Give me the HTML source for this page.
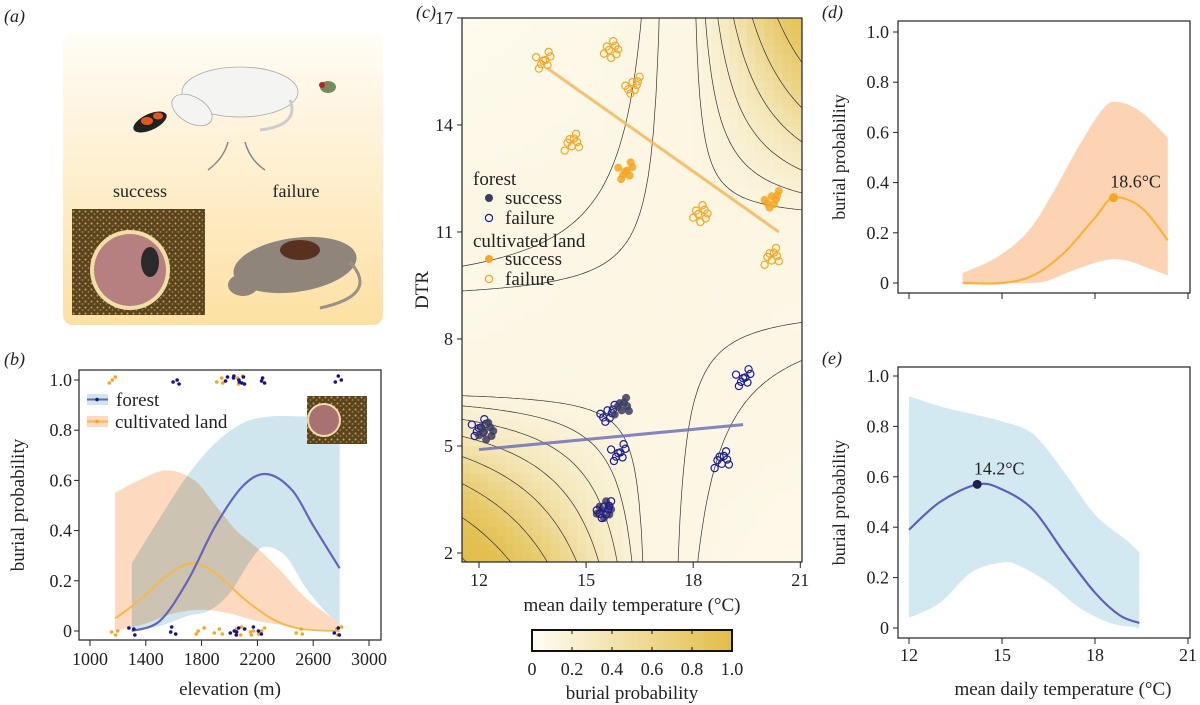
<!DOCTYPE html>
<html><head><meta charset="utf-8">
<style>
html,body{margin:0;padding:0;background:#fff;}
svg{display:block;font-family:"Liberation Serif",serif;}
text{fill:#222;}
</style></head>
<body>
<svg id="fig" width="1200" height="705" viewBox="0 0 1200 705" xmlns="http://www.w3.org/2000/svg">
<defs>
<linearGradient id="bgA" x1="0" y1="0" x2="0" y2="1"><stop offset="0" stop-color="#fffdf7"/><stop offset="1" stop-color="#fde0a3"/></linearGradient>
<linearGradient id="cbar" x1="0" y1="0" x2="1" y2="0"><stop offset="0" stop-color="#fffdf6"/><stop offset="1" stop-color="#e2bd48"/></linearGradient>
<pattern id="soil" width="6" height="6" patternUnits="userSpaceOnUse"><rect width="6" height="6" fill="#5a4420"/><circle cx="1.5" cy="1.5" r="1" fill="#c9a35a"/><circle cx="4.5" cy="4" r="0.9" fill="#a8843f"/></pattern>
<clipPath id="clipC"><rect x="462" y="18" width="340" height="544"/></clipPath>
</defs>

<!-- Panel a -->
<g>
<text x="4" y="22" font-size="18" font-style="italic">(a)</text>
<rect x="63" y="32" width="320" height="293" rx="10" fill="url(#bgA)"/>
<g>
<ellipse cx="240" cy="92" rx="58" ry="25" fill="#f4f4f2" stroke="#aaa" stroke-width="0.8"/>
<ellipse cx="192" cy="110" rx="22" ry="13" fill="#f4f4f2" stroke="#aaa" stroke-width="0.8" transform="rotate(30 192 110)"/>
<path d="M290 100 Q300 125 260 130" fill="none" stroke="#ccc" stroke-width="3"/>
</g>
<g><ellipse cx="150" cy="122" rx="18" ry="8" fill="#222" transform="rotate(-25 150 122)"/><ellipse cx="147" cy="121" rx="6" ry="4" fill="#e05a20"/><ellipse cx="158" cy="116" rx="5" ry="3.5" fill="#e05a20"/></g>
<g><ellipse cx="328" cy="87" rx="8" ry="6" fill="#7a8a5a"/><circle cx="322" cy="85" r="3" fill="#b22"/></g>
<path d="M228 142 Q224 158 208 170" fill="none" stroke="#888" stroke-width="1.5"/>
<path d="M245 142 Q250 160 265 170" fill="none" stroke="#888" stroke-width="1.5"/>
<text x="140" y="197" font-size="18" text-anchor="middle">success</text>
<text x="296" y="197" font-size="18" text-anchor="middle">failure</text>
<g>
<rect x="72" y="209" width="133" height="106" fill="url(#soil)"/>
<circle cx="130" cy="270" r="40" fill="#f2dfa8"/>
<circle cx="130" cy="270" r="36" fill="#b68080"/>
<ellipse cx="150" cy="262" rx="9" ry="15" fill="#2a2a2a"/>
</g>
<g>
<ellipse cx="295" cy="265" rx="62" ry="27" fill="#8f857b" transform="rotate(-8 295 265)"/>
<ellipse cx="243" cy="285" rx="15" ry="11" fill="#8f857b"/>
<ellipse cx="300" cy="250" rx="20" ry="10" fill="#5a3020"/>
<path d="M350 262 Q380 295 320 308" fill="none" stroke="#9a9088" stroke-width="3"/>
</g>
</g>

<g id="gB"></g>
<g id="gC"></g>
<g id="gD"></g>
<g id="gE"></g>
</svg>

<script>
// ---------- Panel b data ----------
const bForestX = [1300,1500,1700,1900,2100,2270,2450,2600,2790];
const bForestMean = [0.0,0.04,0.2,0.42,0.58,0.625,0.56,0.42,0.25];
const bForestUpX = [1300,1500,1700,1900,2100,2300,2500,2790];
const bForestUp = [0.27,0.45,0.62,0.75,0.83,0.855,0.855,0.85];
const bForestLoX = [1300,1500,1700,1850,2000,2150,2250,2400,2550,2700,2790];
const bForestLo = [0.0,0.02,0.06,0.08,0.15,0.28,0.335,0.3,0.17,0.07,0.03];
const bCultX = [1180,1350,1550,1730,1900,2100,2300,2500,2790];
const bCultMean = [0.05,0.12,0.22,0.27,0.23,0.13,0.05,0.01,0.0];
const bCultUpX = [1180,1350,1550,1750,1900,2050,2200,2350,2550,2790];
const bCultUp = [0.55,0.6,0.64,0.6,0.5,0.4,0.33,0.25,0.13,0.03];
const bCultLoX = [1180,1400,1600,1800,2000,2200,2500,2790];
const bCultLo = [0.0,0.03,0.07,0.085,0.07,0.04,0.015,0.005];
const bForestPtsX = [1610,2000,2060,2100,2230,2780,1300,1600,2020,2080,2200,2780];
const bForestPtsY = [1,1,1,1,1,1,0,0,0,0,0,0];
const bCultPtsX = [1160,1930,2080,1170,1790,1920,2080,2150,2230,2500,2790];
const bCultPtsY = [1,1,1,0,0,0,0,0,0,0,0];
const bXTicks = [1000,1400,1800,2200,2600,3000];
const bYTicks = [0,0.2,0.4,0.6,0.8,1.0];
const bYTickLabels = ["0","0.2","0.4","0.6","0.8","1.0"];

// ---------- Panel c data ----------
const cClusterT = [13.8,15.7,16.3,14.6,16.1,18.2,20.2,20.2, 12.0,12.2,15.6,16.0,15.9,15.5,15.5,18.8,19.4];
const cClusterD = [15.8,16.1,15.1,13.5,12.7,11.5,11.9,10.3, 5.5,5.4,5.9,6.1,4.8,3.2,3.2,4.6,6.9];
const cClusterGroup = ["cult","cult","cult","cult","cult","cult","cult","cult","forest","forest","forest","forest","forest","forest","forest","forest","forest"];
const cClusterFilled = [0,0,0,0,1,0,1,0, 0,1,0,1,0,1,0,0,0];
const cJitterT = [0,0.12,-0.12,0.2,-0.2,0.06,-0.06,0.15];
const cJitterD = [0,0.12,-0.1,-0.12,0.1,0.25,-0.22,0.02];
const cTrendCultT = [13.9,20.4]; const cTrendCultD = [15.6,11.0];
const cTrendForT = [12.0,19.4]; const cTrendForD = [4.9,5.6];
const cXTicks = [12,15,18,21];
const cYTicks = [2,5,8,11,14,17];
// saddle model coefficients (two hyperbolic lobes)
const cLobeT = [16.8,17.9]; const cLobeD = [6.6,11.3]; const cLobeB = [0.22,0.24]; const cIntercept = -2.2;
const cContourLevels = [1,2.5,4.5,7,10,14,19,25];
const cNegLevels = [-2,-6];
const cbTicks = [0,0.2,0.4,0.6,0.8,1.0];
const cbLabels = ["0","0.2","0.4","0.6","0.8","1.0"];

// ---------- Panel d / e data ----------
const dX = [13.73,14.8,15.8,16.6,17.5,18.3,18.8,19.5,20.35];
const dUp = [0.04,0.1,0.2,0.35,0.55,0.70,0.72,0.68,0.58];
const dLoX = [13.73,15.0,16.0,16.5,17.3,18.3,19.0,19.7,20.35];
const dLo = [0.0,0.0,0.0,0.01,0.05,0.09,0.09,0.06,0.03];
const dMeanX = [13.73,15.0,16.0,17.0,18.0,18.6,19.5,20.35];
const dMean = [0.0,0.0,0.03,0.12,0.26,0.34,0.30,0.17];
const dPeak = [18.6,0.34];
const eX = [12,13,14,15,16,17,18,19,19.43];
const eUp = [0.92,0.88,0.85,0.82,0.77,0.62,0.45,0.35,0.30];
const eLoX = [12,13,14,15,15.5,16.5,17.5,18.5,19.43];
const eLo = [0.04,0.10,0.22,0.26,0.25,0.18,0.08,0.02,0.0];
const eMeanX = [12,13,14.2,15,16,17,18,18.8,19.43];
const eMean = [0.39,0.50,0.57,0.55,0.47,0.30,0.14,0.05,0.02];
const ePeak = [14.2,0.57];
const deXTicks = [12,15,18,21];
const deYTicks = [0,0.2,0.4,0.6,0.8,1.0];

const NS = "http://www.w3.org/2000/svg";
function mk(parent, tag, attrs, txt){
  const e = document.createElementNS(NS, tag);
  for (const k in attrs) e.setAttribute(k, attrs[k]);
  if (txt !== undefined) e.textContent = txt;
  parent.appendChild(e);
  return e;
}
function smooth(pts){
  if (pts.length < 2) return "";
  let d = "M" + pts[0][0].toFixed(1) + " " + pts[0][1].toFixed(1);
  for (let i = 0; i < pts.length - 1; i++){
    const p0 = pts[i-1] || pts[i], p1 = pts[i], p2 = pts[i+1], p3 = pts[i+2] || p2;
    const c1 = [p1[0] + (p2[0]-p0[0])/6, p1[1] + (p2[1]-p0[1])/6];
    const c2 = [p2[0] - (p3[0]-p1[0])/6, p2[1] - (p3[1]-p1[1])/6];
    d += " C" + c1[0].toFixed(1)+" "+c1[1].toFixed(1)+" "+c2[0].toFixed(1)+" "+c2[1].toFixed(1)+" "+p2[0].toFixed(1)+" "+p2[1].toFixed(1);
  }
  return d;
}
function band(xu, yu, xl, yl, sx, sy){
  const up = xu.map((x,i)=>[sx(x), sy(yu[i])]);
  const lo = xl.map((x,i)=>[sx(x), sy(yl[i])]).reverse();
  return smooth(up) + " L" + smooth(lo).slice(1) + " Z";
}

// ================= Panel b =================
(function(){
  const g = document.getElementById("gB");
  const xb = v => 90 + (v - 1000) * 0.1395;
  const yb = p => 631 - p * 251;
  mk(g, "text", {x:4, y:365, "font-size":18, "font-style":"italic",  }, "(b)");
  const fb = mk(g, "path", {d: band(bForestUpX,bForestUp,bForestLoX,bForestLo,xb,yb), fill:"#cfe6ef"});
  
  
  const cb = mk(g, "path", {d: band(bCultUpX,bCultUp,bCultLoX,bCultLo,xb,yb), fill:"#fdd9bf", style:"mix-blend-mode:multiply"});
  
  
  const cl = mk(g, "path", {d: smooth(bCultX.map((x,i)=>[xb(x), yb(bCultMean[i])])), fill:"none", stroke:"#f5b94a", "stroke-width":2});
  
  
  const fl = mk(g, "path", {d: smooth(bForestX.map((x,i)=>[xb(x), yb(bForestMean[i])])), fill:"none", stroke:"#6465b8", "stroke-width":2.2});
  
  
  const jx = [0,3,-3,2,-2,4,-4,1];
  const jy = [0,-3,3,2,-2,-4,4,1];
  bCultPtsX.forEach((x,i)=>{
    for (let k=0;k<3;k++){
      const c = mk(g,"circle",{cx:xb(x)+jx[(i+k)%8], cy:yb(bCultPtsY[i])+jy[(i*2+k)%8], r:1.8, fill:"#f5a623"});
      
      
    }
  });
  bForestPtsX.forEach((x,i)=>{
    for (let k=0;k<3;k++){
      const c = mk(g,"circle",{cx:xb(x)+jx[(i+k+3)%8], cy:yb(bForestPtsY[i])+jy[(i+k*3)%8], r:1.8, fill:"#14148a"});
      
      
    }
  });
  mk(g,"rect",{x:79,y:370,width:302,height:270,fill:"none",stroke:"#222","stroke-width":1.2,});
  bYTicks.forEach((v,i)=>{
    mk(g,"line",{x1:74,x2:79,y1:yb(v),y2:yb(v),stroke:"#222"});
    const t = mk(g,"text",{x:72,y:yb(v)+6,"font-size":18,"text-anchor":"end"}, bYTickLabels[i]);
    
    
  });
  bXTicks.forEach(v=>{
    mk(g,"line",{x1:xb(v),x2:xb(v),y1:640,y2:646,stroke:"#222"});
    const t = mk(g,"text",{x:xb(v),y:665,"font-size":18,"text-anchor":"middle"}, String(v));
    
    
  });
  mk(g,"text",{x:230,y:695,"font-size":19,"text-anchor":"middle",},"elevation (m)");
  mk(g,"text",{x:0,y:0,"font-size":19,"text-anchor":"middle",transform:"translate(24 505) rotate(-90)",},"burial probability");
  const lg = mk(g,"g",{});
  mk(lg,"rect",{x:87,y:394,width:21,height:11,fill:"#cfe6ef"});
  mk(lg,"line",{x1:87,x2:108,y1:399.5,y2:399.5,stroke:"#6465b8","stroke-width":2});
  mk(lg,"circle",{cx:97,cy:399.5,r:1.8,fill:"#14148a"});
  mk(lg,"text",{x:116,y:406,"font-size":19,},"forest");
  mk(lg,"rect",{x:87,y:416,width:21,height:11,fill:"#fdd9bf"});
  mk(lg,"line",{x1:87,x2:108,y1:421.5,y2:421.5,stroke:"#f5b94a","stroke-width":2});
  mk(lg,"circle",{cx:97,cy:421.5,r:1.8,fill:"#f5a623"});
  mk(lg,"text",{x:115,y:428,"font-size":19,},"cultivated land");
  const ins = mk(g,"g",{});
  mk(ins,"rect",{x:307,y:396,width:60,height:48,fill:"url(#soil)"});
  mk(ins,"circle",{cx:324,cy:420,r:17,fill:"#f2dfa8"});
  mk(ins,"circle",{cx:324,cy:420,r:15,fill:"#a87272"});
})();

// ================= Panel c =================
(function(){
  const g = document.getElementById("gC");
  const xc = t => 479 + (t - 12) * 35.7;
  const yc = d => 553 - (d - 2) * 35.67;
  const sig = z => 1/(1+Math.exp(-z));
  function prob(t,d){
    let best = 0;
    for (let k=0;k<2;k++){
      const u = (t - cLobeT[k])*(d - cLobeD[k]);
      const side = k===0 ? (t<cLobeT[k] && d<cLobeD[k]) : (t>cLobeT[k] && d>cLobeD[k]);
      const uu = side ? u : -Math.abs(u)*0.1;
      best = Math.max(best, sig(cIntercept + cLobeB[k]*uu));
    }
    return best;
  }
  mk(g, "text", {x:416, y:18, "font-size":18, "font-style":"italic",  }, "(c)");
  const hm = mk(g,"g",{"clip-path":"url(#clipC)","shape-rendering":"crispEdges",});
  const step = 0.25;
  for (let t=11.5; t<21.01; t+=step){
    for (let d=1.75; d<17.01; d+=step){
      const p = prob(t+step/2, d+step/2);
      const r = Math.round(255 + (224-255)*p), gg = Math.round(253 + (187-253)*p), b = Math.round(245 + (66-245)*p);
      const c = mk(hm,"rect",{x:xc(t).toFixed(1), y:yc(d+step).toFixed(1), width:(step*35.7+0.6).toFixed(1), height:(step*35.67+0.6).toFixed(1), fill:`rgb(${r},${gg},${b})`});
      
      
    }
  }
  const cg = mk(g,"g",{"clip-path":"url(#clipC)",fill:"none",stroke:"#333","stroke-width":0.7,});
  function hyper(tc, dc, c, tFrom, tTo){
    const pts = [];
    const n = 80;
    for (let i=0;i<=n;i++){
      const t = tFrom + (tTo - tFrom)*i/n;
      const d = dc + c/(t - tc);
      if (d < 0 || d > 20) continue;
      pts.push(xc(t).toFixed(1)+" "+yc(d).toFixed(1));
    }
    return pts.length ? "M" + pts.join(" L") : "";
  }
  cContourLevels.forEach(c=>{
    const p1 = mk(cg,"path",{d: hyper(cLobeT[0], cLobeD[0], c, 11.4, cLobeT[0]-0.05)});
    
    
    const p2 = mk(cg,"path",{d: hyper(cLobeT[1], cLobeD[1], c, cLobeT[1]+0.05, 21.1)});
    
    
  });
  cNegLevels.forEach(c=>{
    const p1 = mk(cg,"path",{d: hyper(17.3, 9.0, c, 11.4, 17.25)});
    
    
    const p2 = mk(cg,"path",{d: hyper(17.3, 9.0, c, 17.35, 21.1)});
    
    
  });
  const tc1 = mk(g,"line",{x1:xc(cTrendCultT[0]),y1:yc(cTrendCultD[0]),x2:xc(cTrendCultT[1]),y2:yc(cTrendCultD[1]),stroke:"#f5b75a","stroke-width":3,"stroke-opacity":0.85});
  
  
  const tc2 = mk(g,"line",{x1:xc(cTrendForT[0]),y1:yc(cTrendForD[0]),x2:xc(cTrendForT[1]),y2:yc(cTrendForD[1]),stroke:"#7070b8","stroke-width":3,"stroke-opacity":0.85});
  
  
  cClusterT.forEach((t,i)=>{
    const col = cClusterGroup[i]==="cult" ? "#f5a623" : "#1c1c92";
    const fillCol = cClusterGroup[i]==="cult" ? "#f5a623" : "#3c3c60";
    for (let k=0;k<cJitterT.length;k++){
      const x = xc(t + cJitterT[(k+i)%8]);
      const y = yc(cClusterD[i] + cJitterD[(k*3+i)%8]);
      const c = cClusterFilled[i] ? mk(g,"circle",{cx:x,cy:y,r:4,fill:fillCol,"fill-opacity":0.85})
                                  : mk(g,"circle",{cx:x,cy:y,r:3.6,fill:"none",stroke:col,"stroke-width":1.2});
      
      
    }
  });
  mk(g,"rect",{x:462,y:18,width:340,height:544,fill:"none",stroke:"#222","stroke-width":1.2,});
  cYTicks.forEach(v=>{
    mk(g,"line",{x1:457,x2:462,y1:yc(v),y2:yc(v),stroke:"#222"});
    const t = mk(g,"text",{x:453,y:yc(v)+6,"font-size":18,"text-anchor":"end"}, String(v));
    
    
  });
  cXTicks.forEach(v=>{
    mk(g,"line",{x1:xc(v),x2:xc(v),y1:562,y2:568,stroke:"#222"});
    const t = mk(g,"text",{x:xc(v),y:586,"font-size":18,"text-anchor":"middle"}, String(v));
    
    
  });
  mk(g,"text",{x:632,y:611,"font-size":19,"text-anchor":"middle",},"mean daily temperature (°C)");
  mk(g,"text",{x:0,y:0,"font-size":19,"text-anchor":"middle",transform:"translate(428 290) rotate(-90)",},"DTR");
  const lg = mk(g,"g",{});
  mk(lg,"text",{x:473,y:185,"font-size":19},"forest");
  mk(lg,"circle",{cx:489,cy:198,r:4,fill:"#3c3c60"});
  mk(lg,"text",{x:505,y:204,"font-size":19,},"success");
  mk(lg,"circle",{cx:489,cy:218,r:3.6,fill:"none",stroke:"#1c1c92","stroke-width":1.2});
  mk(lg,"text",{x:505,y:224,"font-size":19,},"failure");
  mk(lg,"text",{x:473,y:247,"font-size":19},"cultivated land");
  mk(lg,"circle",{cx:489,cy:259,r:4,fill:"#f5a623"});
  mk(lg,"text",{x:505,y:265,"font-size":19,},"success");
  mk(lg,"circle",{cx:489,cy:279,r:3.6,fill:"none",stroke:"#f5a623","stroke-width":1.2});
  mk(lg,"text",{x:505,y:285,"font-size":19,},"failure");
  const cbx = v => 532 + v * 200;
  mk(g,"rect",{x:532,y:630,width:200,height:21,fill:"url(#cbar)",stroke:"#111","stroke-width":2,});
  cbTicks.forEach((v,i)=>{
    if (v>0 && v<1){ mk(g,"line",{x1:cbx(v),x2:cbx(v),y1:630,y2:634,stroke:"#111"}); mk(g,"line",{x1:cbx(v),x2:cbx(v),y1:647,y2:651,stroke:"#111"}); }
    const t = mk(g,"text",{x:cbx(v),y:675,"font-size":18,"text-anchor":"middle"}, cbLabels[i]);
    
    
  });
  mk(g,"text",{x:632,y:699,"font-size":19,"text-anchor":"middle",},"burial probability");
})();

// ================= Panels d & e =================
function tempPanel(gid, top, bottom, y0, y1, bandX, bandUp, bandLoX, bandLo, meanX, mean, peak, bandCol, lineCol, dotCol, showXLabels, labelOffset){
  const g = document.getElementById(gid);
  const xd = t => 909 + (t - 12) * 31;
  const yd = p => y0 - p * (y0 - y1);
  const letter = gid.slice(1).toLowerCase();
  mk(g, "text", {x:822, y:top-3, "font-size":18, "font-style":"italic",  }, "("+letter+")");
  const b = mk(g,"path",{d: band(bandX,bandUp,bandLoX,bandLo,xd,yd), fill:bandCol});
  
  
  const l = mk(g,"path",{d: smooth(meanX.map((x,i)=>[xd(x), yd(mean[i])])), fill:"none", stroke:lineCol, "stroke-width":2.2});
  
  
  const pk = mk(g,"circle",{cx:xd(peak[0]), cy:yd(peak[1]), r:4.5, fill:dotCol});
  
  
  const pt = mk(g,"text",{x:xd(peak[0])+labelOffset, y:yd(peak[1])-10, "font-size":18, "text-anchor":"middle"}, peak[0].toFixed(1)+"°C");
  
  
  mk(g,"rect",{x:898,y:top,width:292,height:bottom-top,fill:"none",stroke:"#222","stroke-width":1.2,});
  deYTicks.forEach(v=>{
    mk(g,"line",{x1:893,x2:898,y1:yd(v),y2:yd(v),stroke:"#222"});
    const t = mk(g,"text",{x:889,y:yd(v)+6,"font-size":18,"text-anchor":"end"}, v===0?"0":v.toFixed(1));
    
    
  });
  deXTicks.forEach(v=>{
    mk(g,"line",{x1:xd(v),x2:xd(v),y1:bottom,y2:bottom+6,stroke:"#222"});
    if (showXLabels){
      const t = mk(g,"text",{x:xd(v),y:bottom+23,"font-size":18,"text-anchor":"middle"}, String(v));
      
      
    }
  });
  mk(g,"text",{x:0,y:0,"font-size":18,"text-anchor":"middle",transform:`translate(845 ${(top+bottom)/2}) rotate(-90)`,},"burial probability");
}
tempPanel("gD",21,293,283,32,dX,dUp,dLoX,dLo,dMeanX,dMean,dPeak,"#fcd4b3","#f5b43c","#f5a623",false,22);
tempPanel("gE",367,638,628,376,eX,eUp,eLoX,eLo,eMeanX,eMean,ePeak,"#d3e9f1","#5e60b8","#20204e",true,22);
mk(document.getElementById("gE"),"text",{x:1063,y:695,"font-size":19,"text-anchor":"middle",},"mean daily temperature (°C)");
</script>
</body></html>
